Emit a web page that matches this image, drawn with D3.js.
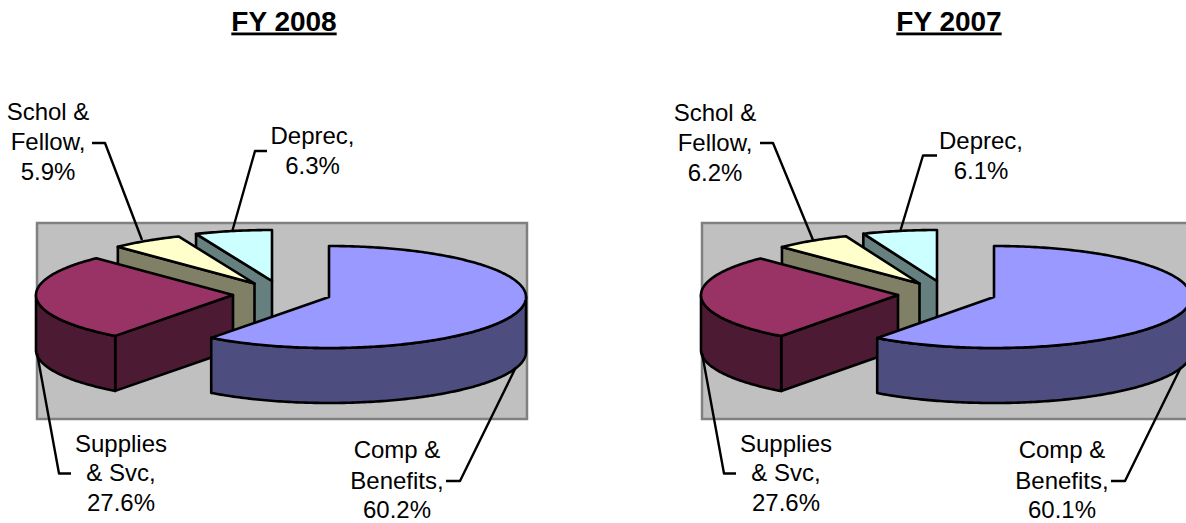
<!DOCTYPE html>
<html>
<head>
<meta charset="utf-8">
<script src="https://cdn.jsdelivr.net/npm/d3@7/dist/d3.min.js"></script>
<style>
html,body{margin:0;padding:0;background:#fff;overflow:hidden}
text{font-family:"Liberation Sans",Arial,sans-serif;fill:#000}
</style>
</head>
<body>
<svg id="chart" width="1186" height="523"></svg>
<script>
const categoryLines = [["Comp &","Benefits,"],["Supplies","& Svc,"],["Schol &","Fellow,"],["Deprec,"]];
const titles = ["FY 2008","FY 2007"];
const values2008 = [60.2,27.6,5.9,6.3];
const values2007 = [60.1,27.6,6.2,6.1];
const topColors = ["#9999FF","#993366","#FFFFCC","#CCFFFF"];
const sideColors = ["#4D4D80","#4D1A33","#808066","#668080"];

// Layout (per panel, relative to panel origin)
const RX=197, RY=51, DEPTH=55;
const centres=[[329,297],[233,295],[254.5,283.5],[272,281]];
const panelDx=[0,665];
const rectBox={x:37,y:223,w:490,h:196};
const labelAnchors=[
 [{x:397,ys:[458,489,518]},{x:121,ys:[452,481,511]},{x:48,ys:[119.5,150,179.5]},{x:312.5,ys:[144,174]}],
 [{x:397,ys:[458,489,518]},{x:121,ys:[452,481,511]},{x:50,ys:[120.5,151,181]},{x:316,ys:[149,179]}]
];
const leaderPts=[
 [[[516,367],[460,481],[446,481]],[[37,353],[59,473.5],[71,473.5]],[[92,143],[105,143],[142,240]],[[267,151],[255,151],[232,232]]],
 [[[516,367],[460,481],[446,481]],[[37,353],[59,473.5],[71,473.5]],[[95,143],[108,143],[148,240]],[[272,155.5],[258,155.5],[235,232]]]
];

const svg=d3.select("#chart");
const pie=d3.pie().sort(null).value(d=>d);
const line=d3.line();
const x=d3.scaleLinear().domain([-1,1]).range([-RX,RX]);
const y=d3.scaleLinear().domain([-1,1]).range([-RY,RY]);

function rimPt(c,a,dy){return [c[0]+x(Math.sin(a)),c[1]+y(-Math.cos(a))+dy];}
function arcPts(c,a0,a1,dy){
  const n=Math.max(2,Math.ceil(Math.abs(a1-a0)/0.015));
  return d3.range(n+1).map(i=>rimPt(c,a0+(a1-a0)*i/n,dy));
}
function drawPanel(values,title,p){
  const dx=panelDx[p];
  const g=svg.append("g").attr("transform",`translate(${dx},0)`);
  svg.append("text").attr("x",284+dx).attr("y",30.5).attr("text-anchor","middle")
    .attr("font-size",28).attr("font-weight","bold").attr("text-decoration","underline").text(title);
  g.append("rect").attr("x",rectBox.x).attr("y",rectBox.y).attr("width",rectBox.w).attr("height",rectBox.h)
    .attr("fill","#C0C0C0").attr("stroke","#808080").attr("stroke-width",2.5);
  const arcs=pie(values);
  const order=d3.range(arcs.length).reverse();
  const sw=2.6;
  order.forEach(i=>{
    const d=arcs[i],c=centres[i];
    const s=g.append("g");
    const rs=rimPt(c,d.startAngle,0);
    if(i>0){
      s.append("path").attr("d",line([c,rs,[rs[0],rs[1]+DEPTH],[c[0],c[1]+DEPTH]])+"Z")
       .attr("fill",sideColors[i]).attr("stroke","#000").attr("stroke-width",sw).attr("stroke-linejoin","round");
    }
    const a0=Math.max(d.startAngle,Math.PI/2),a1=Math.min(d.endAngle,Math.PI*1.5);
    if(a1>a0){
      const top=arcPts(c,a0,a1,0),bot=arcPts(c,a1,a0,DEPTH);
      s.append("path").attr("d",line(top.concat(bot))+"Z")
       .attr("fill",sideColors[i]).attr("stroke","#000").attr("stroke-width",sw).attr("stroke-linejoin","round");
    }
    const face=[c].concat(arcPts(c,d.startAngle,d.endAngle,0));
    s.append("path").attr("d",line(face)+"Z")
     .attr("fill",topColors[i]).attr("stroke","#000").attr("stroke-width",sw).attr("stroke-linejoin","round");
  });
  leaderPts[p].forEach(pts=>{
    g.append("path").attr("d",line(pts)).attr("fill","none").attr("stroke","#000").attr("stroke-width",2.4).attr("stroke-linejoin","round");
  });
  values.forEach((v,i)=>{
    const lines=categoryLines[i].concat([v.toFixed(1)+"%"]);
    const a=labelAnchors[p][i];
    lines.forEach((t,k)=>{
      g.append("text").attr("x",a.x).attr("y",a.ys[k]).attr("text-anchor","middle").attr("font-size",24).text(t);
    });
  });
}
drawPanel(values2008,titles[0],0);
drawPanel(values2007,titles[1],1);
</script>
</body>
</html>
